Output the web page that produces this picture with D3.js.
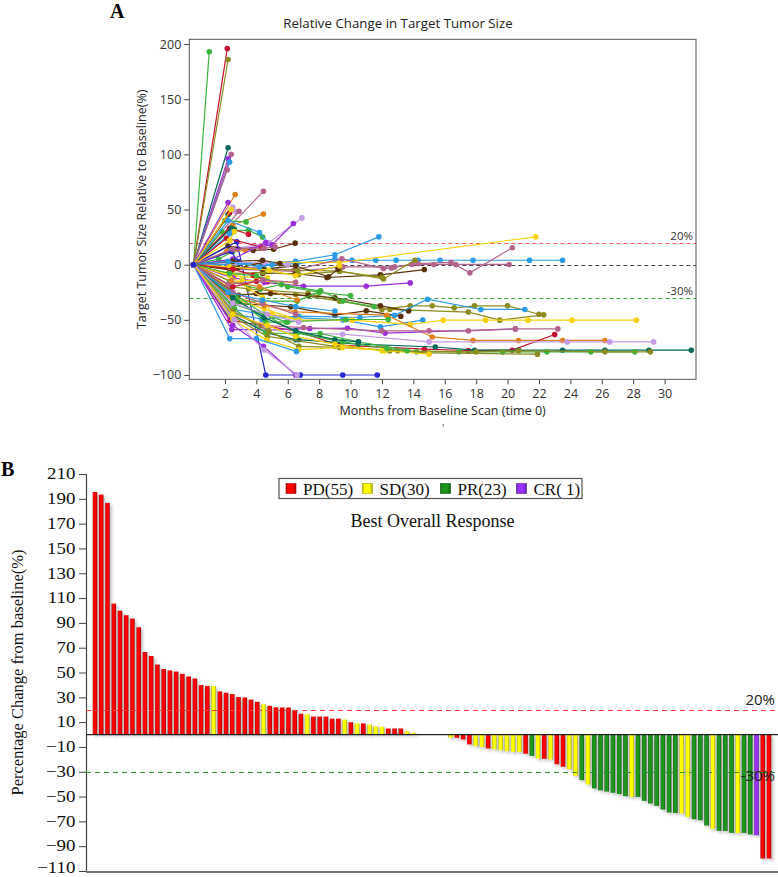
<!DOCTYPE html>
<html><head><meta charset="utf-8">
<script src="https://cdn.jsdelivr.net/npm/d3@7"></script>
<style>body{margin:0;background:#fff}svg{display:block}</style>
</head><body>
<svg id="c" width="778" height="877"></svg>
<script>
// ---------------- DATA ----------------
// Panel A: spider plot (months, % change), one path per patient
const monthTicks = [2,4,6,8,10,12,14,16,18,20,22,24,26,28,30];
const pctTicksA = [-100,-50,0,50,100,150,200];
const refLevelsA = [20,0,-30];
const spiderPaths = [
 [[0,0],[1.0,193]],
 [[0,0],[2.15,196]],
 [[0,0],[2.2,186]],
 [[0,0],[2.2,106]],
 [[0,0],[2.4,100]],
 [[0,0],[2.2,96]],
 [[0,0],[2.3,93]],
 [[0,0],[2.15,86]],
 [[0,0],[2.65,63.6]],
 [[0,0],[4.45,66.6]],
 [[0,0],[2.2,56.4]],
 [[0,0],[2.5,52],[2.7,48]],
 [[0,0],[2.9,48.5]],
 [[0,0],[2.5,36],[4.45,46]],
 [[0,0],[2.2,45.4]],
 [[0,0],[2.0,40],[3.35,38.8]],
 [[0,0],[2.3,47]],
 [[0,0],[1.8,30],[3.5,31.3],[4.4,25]],
 [[0,0],[2.3,33],[3.5,27.6]],
 [[0,0],[2.2,40],[4.2,29.2],[4.8,19]],
 [[0,0],[2.4,33],[2.6,32]],
 [[0,0],[2.8,15],[4.8,20],[6.9,42.4]],
 [[0,0],[2.8,14],[5.0,18],[6.36,37.3]],
 [[0,0],[2.2,17],[3.8,13],[5.1,14],[6.47,19.5]],
 [[0,0],[2.3,28],[2.5,30]],
 [[0,0],[2.76,20.7],[4.6,-100],[6.8,-100],[9.5,-100],[11.7,-100]],
 [[0,0],[2.1,24],[4.3,16]],
 [[0,0],[1.6,5],[2.5,12]],
 [[0,0],[2.3,22],[2.6,30]],
 [[0,0],[2.1,12],[3.3,13]],
 [[0,0],[2.5,5],[4.6,20]],
 [[0,0],[2.4,50]],
 [[0,0],[2.4,12],[2.8,3]],
 [[0,0],[2.5,14],[4.5,15],[5.2,16]],
 [[0,0],[2.2,2],[4.5,0],[6.6,1],[9.0,5],[10.1,4],[11.6,4],[12.9,4],[14.3,4],[15.7,4],[17.8,4],[21.4,4],[23.5,4]],
 [[0,0],[2.3,0],[6.5,3],[9.0,9],[11.8,25.2]],
 [[0,0],[2.5,-5],[4.2,2],[9.3,2],[21.8,25.2]],
 [[0,0],[2.2,-2],[4.3,-3],[6.4,-5],[9.45,5.3],[12.1,-3.5],[12.6,-2.9],[13.9,0.2],[15.3,0.2],[16.7,0.2],[20.1,0.2]],
 [[0,0],[2.3,-4],[6.5,-6],[9.5,-2],[12.8,-2],[14.3,1],[16.4,2],[17.6,-7.4],[20.3,15.3]],
 [[0,0],[2.4,-5],[4.3,2],[4.4,-8],[6.5,-8],[8.5,-11.6],[11.9,-9.2],[14.7,-4.4]],
 [[0,0],[2.5,-3],[4.5,-4],[6.6,-5],[9.3,-5.9],[12.1,-12.9],[14.1,4]],
 [[0,0],[2.2,-8],[4.4,-7],[6.7,-9],[9.3,-6],[12.0,-11.5]],
 [[0,0],[2.8,-3],[4.4,-4],[6.5,-1],[8.6,-11],[9.2,-4]],
 [[0,0],[2.3,-2],[4.8,-5],[6.5,-10],[9.3,-1]],
 [[0,0],[2.6,2],[4.5,2],[6.0,0]],
 [[0,0],[2.5,3],[4.4,4],[5.5,1]],
 [[0,0],[2.2,3],[4.2,-2],[5.0,0]],
 [[0,0],[2.6,-10],[4.0,-12],[4.7,-12]],
 [[0,0],[2.5,-4],[3.8,-9.5],[4.7,-15.5]],
 [[0,0],[2.5,-12],[4.5,-16],[7.0,-19.5],[11.0,-19.5],[13.8,-16.5]],
 [[0,0],[2.16,-20.1],[3.08,-14],[6.47,-16.2]],
 [[0,0],[2.3,-15],[4.24,-22.2],[5.6,-18],[8.06,-24]],
 [[0,0],[2.4,-20],[3.5,-22],[7.3,-26],[12.0,-40.6],[13.8,-37.3],[15.2,-37.3],[16.6,-39.1],[17.9,-37.3],[20.0,-37.3],[22.0,-44.9]],
 [[0,0],[2.5,-27],[6.5,-27],[9.3,-33],[12.5,-40.6],[17.5,-43],[19.5,-50.3],[22.3,-45.5]],
 [[0,0],[2.86,-27.7],[4.0,-26.1],[4.9,-26.1],[7.3,-28],[9.0,-30],[11.9,-37.3],[13.7,-41.9]],
 [[0,0],[2.6,-35],[6.2,-38.2],[9.0,-45.8],[11.0,-41.9],[13.2,-46.7]],
 [[0,0],[2.8,-33.1],[6.6,-33],[8.1,-23.7],[9.5,-33],[11.5,-38]],
 [[0,0],[2.14,-43.5],[4.35,-49.4],[6.7,-46.7],[10.6,-47.9],[12.8,-45.8],[14.9,-31.3],[18.3,-40.6],[21.1,-40.6]],
 [[0,0],[2.3,-40],[4.4,-45],[6.5,-48],[9.5,-50],[11.9,-56.4],[14.6,-50.3]],
 [[0,0],[2.4,-30],[4.5,-40],[6.7,-50.3],[10.1,-50.3],[13.8,-54.2],[15.9,-50.3],[18.6,-50.3],[21.3,-50.3],[24.1,-50.3],[28.2,-50.3]],
 [[0,0],[2.2,-28],[4.5,-37],[6.47,-42.8],[12.3,-45.8],[15.2,-65.5],[17.8,-68.7],[20.7,-68.7],[23.5,-68.7],[26.2,-68.7]],
 [[0,0],[2.4,-35],[5.9,-51.9],[9.7,-49.7],[12.4,-49.7]],
 [[0,0],[2.33,-50.3],[4.3,-55],[6.5,-60],[9.3,-73],[14.7,-76.6],[17.5,-77.8],[20.3,-77.5],[23.0,-63.3]],
 [[0,0],[2.44,-58.8],[4.7,-58.8],[7.4,-57.9],[9.8,-57.6],[12.2,-62],[20.5,-58.2]],
 [[0,0],[2.5,-45],[4.5,-55],[7.0,-57],[12.0,-60],[15.0,-60],[17.5,-60],[20.5,-58.2],[23.2,-58.2]],
 [[0,0],[2.5,-40],[4.5,-58],[6.5,-62],[9.5,-63],[15.0,-70],[23.8,-70],[26.5,-70],[29.3,-70]],
 [[0,0],[2.4,-45],[4.67,-61.8],[6.5,-68],[6.7,-68],[10.5,-72],[15.4,-74.6],[17.9,-77.5],[20.7,-77.5],[23.5,-77.5],[26.2,-77.5],[29.0,-77.5],[31.7,-77.5]],
 [[0,0],[2.6,-40],[4.6,-62],[8.06,-62.4],[10.5,-70],[14.2,-79],[16.9,-79],[19.7,-79],[22.5,-79],[25.3,-79],[28.1,-79]],
 [[0,0],[2.5,-42],[4.8,-60],[6.7,-74],[9.3,-75],[12.5,-78],[15.0,-80],[21.9,-81.1]],
 [[0,0],[2.6,-48],[4.7,-65],[9.0,-74],[13.0,-78],[18.0,-79],[20.7,-78],[26.2,-79],[29.1,-79]],
 [[0,0],[2.5,-50],[4.67,-68.4],[6.7,-77],[9.5,-75],[12.2,-78],[15.0,-81.1]],
 [[0,0],[2.3,-67],[4.0,-67],[6.55,-78.6]],
 [[0,0],[2.5,-55],[4.45,-73.9],[6.5,-100]],
 [[0,0],[2.6,-50],[4.5,-77.4],[6.6,-100]],
 [[0,0],[2.4,-25],[4.5,-45],[6.6,-62],[9.5,-70],[12.3,-76],[13.6,-78]],
 [[0,0],[2.3,-10],[4.4,-30],[5.0,-45],[6.7,-50.3]],
 [[0,0],[2.7,-30],[4.6,-52],[6.0,-52]],
 [[0,0],[2.5,-30],[4.5,-48],[6.5,-60],[9.0,-68],[10.5,-70]],
 [[0,0],[2.4,-15],[4.2,-20],[6.6,-32]],
 [[0,0],[2.5,-20],[4.0,-15]],
 [[0,0],[2.5,-25],[4.4,-35],[6.5,-45]],
 [[0,0],[2.2,-25],[4.4,-32],[6.5,-38],[9.0,-42]],
 [[0,0],[2.3,-8],[4.0,-10],[6.0,-20],[8.0,-25],[10.0,-28]],
 [[0,0],[2.2,-18],[4.45,-14],[6.5,-16]],
 [[0,0],[2.5,-35],[4.7,-45],[6.7,-52]],
 [[0,0],[2.5,-45],[4.7,-55],[6.5,-65],[9.0,-72],[12.0,-78]]
];
// colour group of each patient path (index into palette)
const spiderGroup = [0,1,2,3,4,5,7,4,8,4,5,6,4,8,3,0,1,0,1,7,3,6,5,9,7,11,1,0,10,8,5,10,11,4,
 7,7,10,4,4,9,2,2,9,10,6,9,7,10,1,5,10,0,2,2,9,9,0,7,7,10,8,0,1,5,4,6,3,0,2,2,10,7,5,6,0,10,0,3,8,1,4,7,0,4,6,10];

// Panel B: waterfall of best % change
const bestChange = [195.5,193.4,186.7,105.6,99.9,96.2,93.5,86.5,66.5,63.3,56.4,52.8,51.7,50.8,48.9,46.8,45.1,39.8,39.2,39.1,
 34.8,33.7,32.6,30.2,29.9,28.2,26.4,24.4,23.2,22,21.8,21.8,19.8,16.8,16.3,14.5,14.5,14.5,12.8,12.8,
 12.1,9.9,9,9,8,6.7,6.2,4.9,4.9,4.9,2.6,1.4,
 0,0,0,0,0,
 -2.6,-2.7,-4,-8,-9.4,-10,-11.3,-11.8,-12.6,-13.4,-14,-14,-15.5,-17.2,-19.4,-19.6,-20,-24,-26,-28,
 -33.3,-36.8,-40.3,-43.5,-45,-46,-47,-48,-49.7,-50.3,-50.3,-53.5,-55.6,-57.5,-60.5,-62.9,-63.2,-63.7,-66.4,-68.3,
 -69.1,-73.4,-76,-77.7,-77.7,-79.3,-79.3,-79.3,-80.6,-81.2,-100,-100];
const bestResponse = ['PD','PD','PD','PD','PD','PD','PD','PD','PD','PD','PD','PD','PD','PD','PD','PD','PD','PD','PD','SD',
 'PD','PD','PD','PD','PD','PD','PD','SD','PD','PD','PD','PD','PD','PD','SD','PD','PD','PD','PD','PD',
 'SD','PD','SD','PD','SD','SD','SD','PD','PD','PD','SD','SD',
 'SD','SD','PD','PD','PD',
 'SD','PD','PD','PD','SD','SD','PD','SD','SD','SD','SD','SD','PD','PR','SD','PD','SD','PD','PD','SD',
 'SD','PR','SD','PR','PR','PR','PR','PR','PR','SD','PR','PR','PR','PR','PR','PR','PR','SD','SD','PR',
 'PR','PR','SD','PR','PR','PR','SD','PR','PR','CR','PD','PD'];
const responseCats = ['PD','SD','PR','CR'];
const responseLabels = ['PD(55)','SD(30)','PR(23)','CR( 1)'];
const pctTicksB = [-110,-90,-70,-50,-30,-10,10,30,50,70,90,110,130,150,170,190,210];
const refLevelsB = [20,-30];

// ---------------- STYLE ----------------
const palette = ['#3cb43c','#c8102e','#8c8c1e','#00695a','#b4648c','#9b30d9','#c39be6','#2b9be8','#e0821e','#5a3209','#f5d20a','#2828d2'];
const respColor = {PD:'#ff0000',SD:'#ffff00',PR:'#1e961e',CR:'#9b30ff'};
const respDark = {PD:'#a00000',SD:'#a8a800',PR:'#0a5a0a',CR:'#5a1a9a'};

const svg = d3.select('#c');
const defs = svg.append('defs');
const sh = defs.append('filter').attr('id','shadow').attr('x','-20%').attr('y','-20%').attr('width','150%').attr('height','150%');
sh.append('feDropShadow').attr('dx',2).attr('dy',2).attr('stdDeviation',1.5).attr('flood-color','#777').attr('flood-opacity',0.45);
responseCats.forEach(k=>{
  const g = defs.append('linearGradient').attr('id','g'+k).attr('x1',0).attr('x2',1).attr('y1',0).attr('y2',0);
  g.append('stop').attr('offset','0%').attr('stop-color',respDark[k]);
  g.append('stop').attr('offset','18%').attr('stop-color',respColor[k]);
  g.append('stop').attr('offset','70%').attr('stop-color',respColor[k]);
  g.append('stop').attr('offset','100%').attr('stop-color',respDark[k]);
});

// ================= PANEL A =================
const sansA = "'Open Sans', 'DejaVu Sans', sans-serif";
const xA = d3.scaleLinear().domain([-0.27,32]).range([189.3,696]);
const yA = d3.scaleLinear().domain([-103.9,204.3]).range([379.3,39.3]);

svg.append('text').attr('x',110).attr('y',18).text('A')
  .attr('font-family',"'Liberation Serif',serif").attr('font-weight','bold').attr('font-size',20);
svg.append('text').attr('x',398).attr('y',28).attr('text-anchor','middle')
  .attr('font-family',sansA).attr('font-size',13.3).attr('fill','#222').text('Relative Change in Target Tumor Size');

const gA = svg.append('g');
const axA = d3.axisLeft(yA).tickValues(pctTicksA).tickSize(5).tickPadding(3);
const axB = d3.axisBottom(xA).tickValues(monthTicks).tickSize(5).tickPadding(5);
const ay = gA.append('g').attr('transform','translate(189.3,0)').call(axA);
const ax = gA.append('g').attr('transform','translate(0,379.3)').call(axB);
[ay,ax].forEach(a=>{
  a.select('.domain').remove();
  a.selectAll('line').attr('stroke','#444');
  a.selectAll('text').attr('font-family',sansA).attr('font-size',12.5).attr('fill','#333');
});

// reference lines
const refColA = {'20':'#ff5a5a','0':'#444','-30':'#3caa3c'};
refLevelsA.forEach(v=>{
  const yy = Math.round(yA(v))+0.5;
  gA.append('line').attr('x1',xA.range()[0]).attr('x2',xA.range()[1]).attr('y1',yy).attr('y2',yy)
    .attr('stroke',refColA[String(v)]).attr('stroke-width',1).attr('stroke-dasharray','4,3');
});
gA.append('text').attr('x',693).attr('y',yA(20)-3).attr('text-anchor','end').attr('font-family',sansA).attr('font-size',11.5).attr('fill','#333').text('20%');
gA.append('text').attr('x',693).attr('y',yA(-30)-3).attr('text-anchor','end').attr('font-family',sansA).attr('font-size',11.5).attr('fill','#333').text('-30%');

const lineA = d3.line().x(d=>xA(d[0])).y(d=>yA(d[1]));
const pg = gA.append('g');
spiderPaths.forEach((p,i)=>{
  const c = palette[spiderGroup[i] % palette.length];
  pg.append('path').attr('d',lineA(p)).attr('fill','none').attr('stroke',c).attr('stroke-width',1.2);
  pg.selectAll(null).data(p).enter().append('circle')
    .attr('cx',d=>xA(d[0])).attr('cy',d=>yA(d[1])).attr('r',2.8).attr('fill',c);
});
// baseline marker
gA.append('circle').attr('cx',xA(0)).attr('cy',yA(0)).attr('r',3).attr('fill','#2828d2');

gA.append('rect').attr('x',189.3).attr('y',39.3).attr('width',696-189.3).attr('height',379.3-39.3)
  .attr('fill','none').attr('stroke','#555').attr('stroke-width',1);

gA.append('text').attr('transform',`translate(146,${(39.3+379.3)/2}) rotate(-90)`).attr('text-anchor','middle')
  .attr('font-family',sansA).attr('font-size',12.5).attr('fill','#222').text('Target Tumor Size Relative to Baseline(%)');
gA.append('text').attr('x',442.6).attr('y',415).attr('text-anchor','middle')
  .attr('font-family',sansA).attr('font-size',12.5).attr('fill','#222').text('Months from Baseline Scan (time 0)');
gA.append('text').attr('x',442).attr('y',432).attr('font-family',sansA).attr('font-size',10).attr('fill','#333').text("'");

// ================= PANEL B =================
const serif = "'Liberation Serif','Times New Roman',serif";
const xB = d3.scaleBand().domain(d3.range(bestChange.length)).range([90.5,773.5]).paddingInner(0.25).paddingOuter(0.35);
const yB = d3.scaleLinear().domain([-110,210]).range([871,474]);

svg.append('text').attr('x',1).attr('y',476).text('B')
  .attr('font-family',serif).attr('font-weight','bold').attr('font-size',20);

const gB = svg.append('g');
const ayB = gB.append('g').attr('transform','translate(86,0)')
  .call(d3.axisLeft(yB).tickValues(pctTicksB).tickSize(7).tickPadding(4));
ayB.select('.domain').attr('stroke','#444').attr('stroke-width',1.2);
ayB.selectAll('line').attr('stroke','#444');
ayB.selectAll('text').attr('font-family',serif).attr('font-size',16).attr('fill','#111')
  .attr('transform','scale(1.18,1)').attr('x',-9)
  .attr('dy',d=>d===-110?'0.12em':'0.3em');

// bars
const bars = gB.append('g').attr('filter','url(#shadow)');
bars.selectAll('rect').data(bestChange).enter().append('rect')
  .attr('x',(d,i)=>xB(i)).attr('width',xB.bandwidth())
  .attr('y',d=>yB(Math.max(0,d))).attr('height',d=>Math.abs(yB(d)-yB(0)))
  .attr('fill',(d,i)=>`url(#g${bestResponse[i]})`);

// zero line and bottom axis
gB.append('line').attr('x1',86).attr('x2',778).attr('y1',yB(0)).attr('y2',yB(0)).attr('stroke','#222').attr('stroke-width',1.2);
gB.append('line').attr('x1',86).attr('x2',778).attr('y1',872).attr('y2',872).attr('stroke','#777').attr('stroke-width',2);

const refColB = {'20':'#ff3c3c','-30':'#2a9a2a'};
refLevelsB.forEach(v=>{
  const yy = Math.round(yB(v))+0.5;
  gB.append('line').attr('x1',86).attr('x2',778).attr('y1',yy).attr('y2',yy)
    .attr('stroke',refColB[String(v)]).attr('stroke-width',1.2).attr('stroke-dasharray','5,4');
});
gB.append('text').attr('x',775).attr('y',yB(20)-5).attr('text-anchor','end').attr('font-family',sansA).attr('font-size',15).attr('fill','#222').text('20%');
gB.append('text').attr('x',775).attr('y',yB(-30)+9).attr('text-anchor','end').attr('font-family',sansA).attr('font-size',15).attr('fill','#222').text('-30%');

// y label
gB.append('text').attr('transform',`translate(23,${(474+871)/2}) rotate(-90)`).attr('text-anchor','middle')
  .attr('font-family',serif).attr('font-size',16.5).attr('fill','#111').text('Percentage Change from baseline(%)');

// legend
const lg = gB.append('g');
lg.append('rect').attr('x',279).attr('y',478.5).attr('width',303).attr('height',20).attr('fill','#fff').attr('stroke','#555').attr('stroke-width',1.2);
const legX = [286,362.5,440.5,516.5];
responseCats.forEach((k,i)=>{
  lg.append('rect').attr('x',legX[i]).attr('y',483.5).attr('width',10).attr('height',10)
    .attr('fill',`url(#g${k})`).attr('stroke',respDark[k]).attr('stroke-width',0.6);
  lg.append('text').attr('x',legX[i]+17).attr('y',495).attr('font-family',serif).attr('font-size',17).attr('fill','#111').text(responseLabels[i]);
});
gB.append('text').attr('x',432.5).attr('y',527).attr('text-anchor','middle')
  .attr('font-family',serif).attr('font-size',18).attr('fill','#111').text('Best Overall Response');
</script>
</body></html>
